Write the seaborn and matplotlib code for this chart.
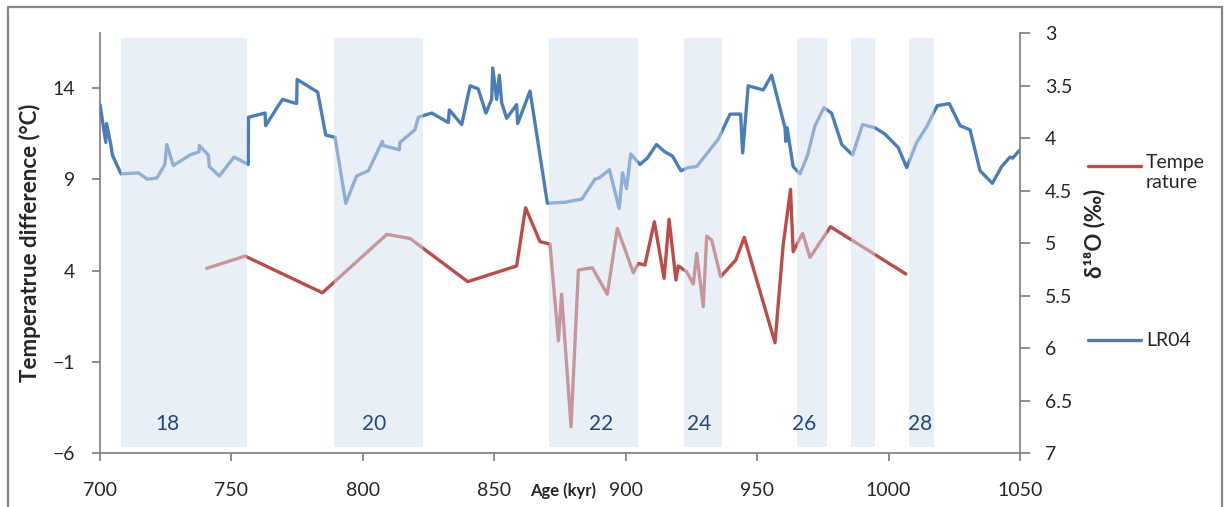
import matplotlib
matplotlib.use('Agg')
import matplotlib.pyplot as plt
import pandas as pd
import seaborn as sns
from matplotlib.lines import Line2D
from matplotlib.patches import Rectangle

# LR04 benthic d18O stack (right axis, inverted)
lr04_age = [700.0, 702.2, 702.5, 704.1, 704.7, 708.0, 714.6, 718.0, 721.6, 724.7,
            725.4, 727.9, 734.2, 737.7, 737.8, 741.2, 741.6, 745.4, 751.0, 756.4,
            756.5, 762.8, 763.0, 769.4, 774.8, 775.0, 782.8, 785.9, 789.4, 793.5,
            797.6, 802.1, 807.4, 807.8, 813.9, 814.1, 819.8, 821.1, 826.2, 832.5,
            832.9, 837.6, 840.8, 843.9, 846.8, 849.0, 849.4, 850.9, 851.9, 852.8,
            854.7, 858.5, 858.9, 863.6, 870.2, 876.9, 883.3, 888.3, 889.8, 893.8,
            897.5, 898.8, 900.3, 901.9, 905.4, 908.2, 911.7, 914.9, 917.8, 921.0,
            923.8, 927.0, 935.2, 939.7, 943.7, 944.5, 946.6, 952.3, 955.5, 960.6,
            960.9, 961.4, 963.7, 966.3, 969.1, 972.0, 975.4, 978.3, 982.2, 986.3,
            990.1, 994.8, 998.6, 1003.7, 1006.9, 1010.7, 1014.5, 1018.5, 1023.1, 1027.2,
            1031.0, 1034.8, 1039.5, 1043.0, 1046.2, 1047.2, 1050.0]
lr04_d18o = [3.68, 4.04, 3.86, 4.06, 4.16, 4.34, 4.33, 4.39, 4.38, 4.25,
             4.06, 4.26, 4.16, 4.13, 4.07, 4.16, 4.27, 4.36, 4.18, 4.25,
             3.80, 3.76, 3.88, 3.63, 3.67, 3.44, 3.56, 3.97, 3.99, 4.62,
             4.36, 4.31, 4.03, 4.07, 4.11, 4.04, 3.92, 3.80, 3.76, 3.85,
             3.73, 3.87, 3.50, 3.53, 3.76, 3.63, 3.33, 3.63, 3.40, 3.66,
             3.81, 3.68, 3.86, 3.55, 4.62, 4.61, 4.58, 4.39, 4.38, 4.30,
             4.67, 4.33, 4.48, 4.15, 4.25, 4.19, 4.06, 4.13, 4.17, 4.31,
             4.28, 4.27, 4.01, 3.77, 3.77, 4.14, 3.50, 3.54, 3.40, 3.90,
             4.03, 3.90, 4.27, 4.34, 4.17, 3.88, 3.71, 3.76, 4.06, 4.16,
             3.87, 3.90, 3.96, 4.09, 4.28, 4.04, 3.89, 3.69, 3.67, 3.88,
             3.92, 4.31, 4.43, 4.27, 4.18, 4.19, 4.11]

# Temperature difference (left axis)
temp_age = [740.6, 755.2, 784.6, 809.1, 817.9, 839.9, 858.5, 861.9, 867.4, 871.2,
            874.4, 875.6, 879.2, 882.0, 887.3, 893.0, 896.8, 902.9, 904.8, 907.3,
            910.9, 914.6, 916.5, 919.1, 920.0, 923.2, 925.7, 927.0, 929.5, 930.8,
            932.7, 936.1, 941.9, 945.1, 956.8, 959.9, 962.7, 963.7, 967.3, 970.1,
            977.9, 1006.6]
temp_diff = [4.12, 4.79, 2.78, 5.98, 5.76, 3.39, 4.25, 7.44, 5.58, 5.45,
             0.15, 2.70, -4.56, 4.03, 4.15, 2.70, 6.31, 3.88, 4.39, 4.30,
             6.67, 3.57, 6.81, 3.48, 4.25, 3.93, 3.26, 4.94, 2.02, 5.89,
             5.67, 3.66, 4.58, 5.82, 0.04, 5.40, 8.45, 5.03, 6.04, 4.72,
             6.40, 3.81]

# glacial stages (shaded bands) and their labels
band_start = [708.0, 789.1, 870.8, 922.3, 965.0, 985.8, 1007.7]
band_end = [756.0, 822.7, 904.8, 936.7, 976.5, 995.0, 1017.3]
stage_labels = ['18', '20', '22', '24', '26', '28']
stage_label_age = [725.7, 804.2, 890.6, 927.8, 967.8, 1012.0]

RED = '#BE4B48'
BLUE = '#4A7EBB'
GREY = '#868686'
W, H = 1229, 507

sns.set_theme(style='white')
plt.rcParams['font.family'] = ['Lato', 'DejaVu Sans']

temp_df = pd.DataFrame({'age': temp_age, 'temp': temp_diff})
lr04_df = pd.DataFrame({'age': lr04_age, 'd18o': lr04_d18o})

fig = plt.figure(figsize=(W / 100, H / 100), dpi=100)
ax = fig.add_axes([100 / W, 1 - 453 / H, 920 / W, (453 - 33.3) / H])
ax2 = ax.twinx()

sns.lineplot(data=temp_df, x='age', y='temp', ax=ax, color=RED, lw=2.4,
             sort=False, estimator=None)
sns.lineplot(data=lr04_df, x='age', y='d18o', ax=ax2, color=BLUE, lw=2.4,
             sort=False, estimator=None, zorder=2)

# translucent bands on top of both lines
for s, e in zip(band_start, band_end):
    ax2.axvspan(s, e, ymin=0.014, ymax=0.988, color='#D4E0F0', alpha=0.5,
                lw=0, zorder=5)
for lab, xa in zip(stage_labels, stage_label_age):
    ax2.text(xa, 6.72, lab, ha='center', va='center', fontsize=15,
             color='#1F497D', zorder=6)

ax.set_xlim(700, 1050)
ax.set_ylim(-6, 17)
ax2.set_ylim(7, 3)
ax.set_xticks(range(700, 1051, 50))
ax.set_yticks([-6, -1, 4, 9, 14])
d18o_ticks = [3, 3.5, 4, 4.5, 5, 5.5, 6, 6.5, 7]
ax2.set_yticks(d18o_ticks)
ax2.set_yticklabels([f'{t:g}' for t in d18o_ticks])

for a in (ax, ax2):
    for sp in a.spines.values():
        sp.set_visible(False)
        sp.set_color(GREY)
        sp.set_linewidth(1.3)
ax.spines['left'].set_visible(True)
ax.spines['bottom'].set_visible(True)
ax2.spines['right'].set_visible(True)

ax.tick_params(axis='y', direction='out', length=6, width=1.3, color=GREY,
               labelsize=14, pad=12, left=True)
ax.tick_params(axis='x', direction='out', length=6, width=1.3, color=GREY,
               labelsize=14, pad=15, bottom=True)
ax2.tick_params(axis='y', direction='out', length=7, width=1.3, color=GREY,
                labelsize=14, pad=11, right=True)

ax.set_xlabel('Age (kyr)', fontsize=12, fontweight='bold')
ax.xaxis.set_label_coords(0.503, -0.0905)
ax.xaxis.label.set_va('center')
ax.set_ylabel('Temperatrue difference (°C)', fontsize=16, fontweight='bold')
ax.yaxis.set_label_coords(-0.076, 0.5)
ax.yaxis.label.set_va('center')
ax2.set_ylabel('δ¹⁸O (‰)', fontsize=16, fontweight='bold', rotation=90)
ax2.yaxis.set_label_coords(1.0815, 0.524)
ax2.yaxis.label.set_va('center')

# legend drawn at the right, Excel style
fig.add_artist(Line2D([1088 / W, 1141 / W], [1 - 166 / H] * 2, color=RED, lw=2.4))
fig.add_artist(Line2D([1088 / W, 1141 / W], [1 - 340 / H] * 2, color=BLUE, lw=2.4))
fig.text(1146 / W, 1 - 154 / H, 'Tempe\nrature', fontsize=14, va='top',
         ha='left', linespacing=1.25)
fig.text(1146 / W, 1 - 340 / H, 'LR04', fontsize=14, va='center', ha='left')

# chart frame (open at the bottom)
fig.add_artist(Rectangle((8 / W, -0.1), 1214 / W, 1.1 - 7 / H,
                         transform=fig.transFigure, fill=False,
                         edgecolor=GREY, lw=1.6))

fig.savefig('out.png', dpi=100)
